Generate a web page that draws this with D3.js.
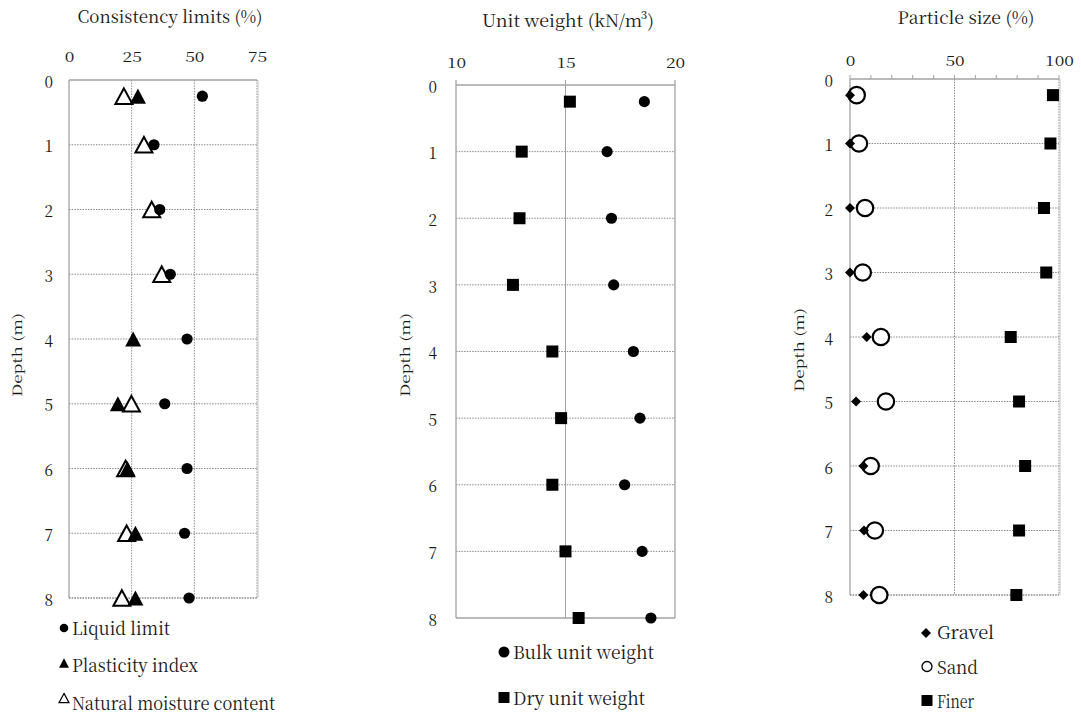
<!DOCTYPE html>
<html><head><meta charset="utf-8">
<script src="https://cdn.jsdelivr.net/npm/d3@7"></script>
<style>
body{margin:0;background:#fff;}
</style></head><body>
<svg id="chart" width="1081" height="714"></svg>
<script>
// ---------- DATA ----------
const depths = [0.25, 1, 2, 3, 4, 5, 6, 7, 8];
const depthTicks = [0, 1, 2, 3, 4, 5, 6, 7, 8];

const liquidLimit     = [53.2, 33.9, 36.2, 40.4, 47.1, 38.2, 47.1, 46.1, 47.9];
const plasticityIndex = [27.5, null, null, null, 25.6, 19.5, 23.3, 26.5, 26.5];
const naturalMoisture = [21.9, 29.9, 33.0, 37.0, null, 24.9, 22.6, 23.0, 21.1];
const consistencyTicks = [0, 25, 50, 75];

const bulkUnitWeight = [18.6, 16.9, 17.1, 17.2, 18.1, 18.4, 17.7, 18.5, 18.9];
const dryUnitWeight  = [15.2, 13.0, 12.9, 12.6, 14.4, 14.8, 14.4, 15.0, 15.6];
const unitWeightTicks = [10, 15, 20];

const gravel = [0, 0, 0, 0, 8.0, 2.9, 6.4, 6.7, 6.4];
const sand   = [3.2, 4.3, 7.2, 6.1, 14.8, 17.2, 9.9, 11.9, 14.0];
const finer  = [97.1, 95.9, 92.8, 93.9, 76.9, 80.9, 83.8, 80.9, 79.6];
const particleTicks = [0, 50, 100];
const particleMinorTicks = [0, 10, 20, 30, 40, 50, 60, 70, 80, 90, 100];

// ---------- DRAWING ----------
const FONT = "'Noto Serif CJK JP','Liberation Serif',serif";
const TXT = '#1a1a1a';
const svg = d3.select('#chart').attr('font-family', FONT);
const GRID = '#8a8a8a', FRAME = '#a3a3a3';

function triPath(w, h) {
  return `M0,${-h/2}L${w/2},${h/2}L${-w/2},${h/2}Z`;
}
function drawMarker(g, type, cx, cy, s) {
  if (type === 'circle') {
    g.append('circle').attr('cx', cx).attr('cy', cy).attr('r', s).attr('fill', '#000');
  } else if (type === 'ocircle') {
    g.append('circle').attr('cx', cx).attr('cy', cy).attr('r', s).attr('fill', '#fff')
      .attr('stroke', '#000').attr('stroke-width', s > 6 ? 2.2 : 1.3);
  } else if (type === 'square') {
    g.append('rect').attr('x', cx - s/2).attr('y', cy - s/2).attr('width', s).attr('height', s).attr('fill', '#000');
  } else if (type === 'diamond') {
    g.append('path').attr('transform', `translate(${cx},${cy})`)
      .attr('d', `M0,${-s/2}L${s/2},0L0,${s/2}L${-s/2},0Z`).attr('fill', '#000');
  } else if (type === 'tri') {
    g.append('path').attr('transform', `translate(${cx},${cy})`).attr('d', triPath(s, s*0.95)).attr('fill', '#000');
  } else if (type === 'otri') {
    g.append('path').attr('transform', `translate(${cx},${cy})`).attr('d', triPath(s, s*0.92))
      .attr('fill', '#fff').attr('stroke', '#000').attr('stroke-width', s > 12 ? 2 : 1.2).attr('stroke-linejoin', 'miter');
  }
}

function panel(cfg) {
  const g = svg.append('g');
  const x = d3.scaleLinear().domain(cfg.xDomain).range([cfg.left, cfg.right]);
  const y = d3.scaleLinear().domain([0, 8]).range([cfg.top, cfg.bottom]);

  g.selectAll('line.hg').data(depthTicks.filter(d => d > 0 && (cfg.hgridMax == null || d <= cfg.hgridMax)))
    .join('line').attr('class', 'hg')
    .attr('x1', cfg.left).attr('x2', cfg.right).attr('y1', d => y(d)).attr('y2', d => y(d))
    .attr('stroke', GRID).attr('stroke-width', 1).attr('stroke-dasharray', '1.5,1.2');
  g.selectAll('line.vg').data(cfg.vgrid).join('line').attr('class', 'vg')
    .attr('x1', d => x(d)).attr('x2', d => x(d)).attr('y1', cfg.top - (cfg.vgridSolid ? 5 : 0)).attr('y2', cfg.bottom)
    .attr('stroke', cfg.vgridSolid ? FRAME : GRID).attr('stroke-width', 1)
    .attr('stroke-dasharray', cfg.vgridSolid ? null : '1.5,1.2');
  const fr = (x1, y1, x2, y2, dotted) => g.append('line').attr('x1', x1).attr('y1', y1).attr('x2', x2).attr('y2', y2)
    .attr('stroke', dotted ? GRID : FRAME).attr('stroke-width', dotted ? 1 : 1.3)
    .attr('stroke-dasharray', dotted ? '1.5,1.2' : null);
  fr(cfg.left, cfg.top, cfg.right, cfg.top, false);
  fr(cfg.left, cfg.top, cfg.left, cfg.bottom, false);
  fr(cfg.right, cfg.top, cfg.right, cfg.bottom, cfg.frameDotted);
  fr(cfg.left, cfg.bottom, cfg.right, cfg.bottom, cfg.frameDotted);
  if (cfg.frameDotted) {
    fr(cfg.right + 1, cfg.top, cfg.right + 1, cfg.bottom, false).attr('stroke', '#c8c8c8').attr('stroke-width', 1);
  }
  if (cfg.vgridSolid) {
    fr(cfg.left, cfg.top - 5, cfg.left, cfg.top, false);
    fr(cfg.right, cfg.top - 5, cfg.right, cfg.top, false);
  }

  if (cfg.minor) {
    g.selectAll('line.mt').data(cfg.minor).join('line').attr('class', 'mt')
      .attr('x1', d => x(d)).attr('x2', d => x(d)).attr('y1', cfg.top - 4).attr('y2', cfg.top)
      .attr('stroke', FRAME).attr('stroke-width', 1);
  }

  const xa = g.append('g').attr('transform', `translate(0,${cfg.top})`)
    .call(d3.axisTop(x).tickValues(cfg.xTicks).tickSize(0).tickPadding(cfg.top - cfg.xLabelBase));
  xa.attr('font-family', FONT);
  xa.select('.domain').remove();
  xa.selectAll('text').attr('font-size', 13).attr('fill', TXT)
    .attr('textLength', d => String(d).length * 9.6).attr('lengthAdjust', 'spacingAndGlyphs');

  const ya = g.append('g').attr('transform', `translate(${cfg.left},0)`)
    .call(d3.axisLeft(y).tickValues(depthTicks).tickSize(0).tickPadding(cfg.yPad));
  ya.attr('font-family', FONT);
  ya.select('.domain').remove();
  ya.selectAll('text').attr('font-size', 16).attr('fill', TXT).attr('dy', '0.45em')
    .attr('textLength', 8.5).attr('lengthAdjust', 'spacingAndGlyphs');

  g.append('text').attr('x', cfg.titleX).attr('y', cfg.titleY).attr('text-anchor', 'middle')
    .attr('fill', TXT).attr('font-size', 17.5).attr('textLength', cfg.titleW)
    .attr('lengthAdjust', 'spacingAndGlyphs').text(cfg.title);
  g.append('text').attr('transform', `translate(${cfg.depthX},${cfg.depthY}) rotate(-90)`)
    .attr('fill', TXT).attr('text-anchor', 'middle').attr('font-size', 13).attr('textLength', 84)
    .attr('lengthAdjust', 'spacingAndGlyphs').text('Depth (m)');

  cfg.series.forEach(s => {
    const sg = g.append('g');
    depths.forEach((d, i) => {
      const v = s.values[i];
      if (v == null) return;
      drawMarker(sg, s.type, x(v), y(d), s.size);
    });
  });

  cfg.legend.forEach(l => {
    const lg = g.append('g');
    drawMarker(lg, l.type, l.mx, l.my, l.size);
    lg.append('text').attr('x', l.tx).attr('y', l.ty).attr('font-size', 18).attr('fill', TXT)
      .attr('textLength', l.w).attr('lengthAdjust', 'spacingAndGlyphs').text(l.label);
  });
}

panel({
  xDomain: [0, 75], left: 69, right: 257, top: 80, bottom: 598,
  xTicks: consistencyTicks, xLabelBase: 62, yPad: 16, vgrid: [25, 50], vgridSolid: false,
  frameDotted: true,
  title: 'Consistency limits (%)', titleX: 170, titleY: 23, titleW: 185,
  depthX: 22, depthY: 355,
  series: [
    {values: naturalMoisture, type: 'otri', size: 17},
    {values: plasticityIndex, type: 'tri', size: 16},
    {values: liquidLimit, type: 'circle', size: 5.6}
  ],
  legend: [
    {type: 'circle', size: 4.3, mx: 64, my: 628, tx: 72, ty: 635, w: 98, label: 'Liquid limit'},
    {type: 'tri', size: 10, mx: 64, my: 663, tx: 72, ty: 671.5, w: 126, label: 'Plasticity index'},
    {type: 'otri', size: 10, mx: 64, my: 698, tx: 72, ty: 710, w: 203, label: 'Natural moisture content'}
  ]
});

panel({
  xDomain: [10, 20], left: 456, right: 675, top: 85, bottom: 618,
  xTicks: unitWeightTicks, xLabelBase: 68, yPad: 19, vgrid: [15], vgridSolid: true,
  frameDotted: false, hgridMax: 7,
  title: 'Unit weight (kN/m³)', titleX: 568, titleY: 27, titleW: 172,
  depthX: 410, depthY: 355,
  series: [
    {values: bulkUnitWeight, type: 'circle', size: 5.6},
    {values: dryUnitWeight, type: 'square', size: 12}
  ],
  legend: [
    {type: 'circle', size: 5.5, mx: 504, my: 652, tx: 513, ty: 658.5, w: 141, label: 'Bulk unit weight'},
    {type: 'square', size: 11, mx: 504, my: 697.5, tx: 513, ty: 705, w: 132, label: 'Dry unit weight'}
  ]
});

panel({
  xDomain: [0, 100], left: 850, right: 1059, top: 79, bottom: 595,
  xTicks: particleTicks, xLabelBase: 66, yPad: 17, vgrid: [50], vgridSolid: false,
  frameDotted: true, minor: particleMinorTicks,
  title: 'Particle size (%)', titleX: 966, titleY: 23.5, titleW: 137,
  depthX: 804, depthY: 350,
  series: [
    {values: finer, type: 'square', size: 12},
    {values: sand, type: 'ocircle', size: 8.2},
    {values: gravel, type: 'diamond', size: 10}
  ],
  legend: [
    {type: 'diamond', size: 10, mx: 926, my: 633, tx: 937, ty: 639, w: 57, label: 'Gravel'},
    {type: 'ocircle', size: 5, mx: 927, my: 666.5, tx: 937, ty: 673.5, w: 41, label: 'Sand'},
    {type: 'square', size: 11, mx: 927, my: 700.5, tx: 937, ty: 708, w: 37, label: 'Finer'}
  ]
});
</script>
</body></html>
